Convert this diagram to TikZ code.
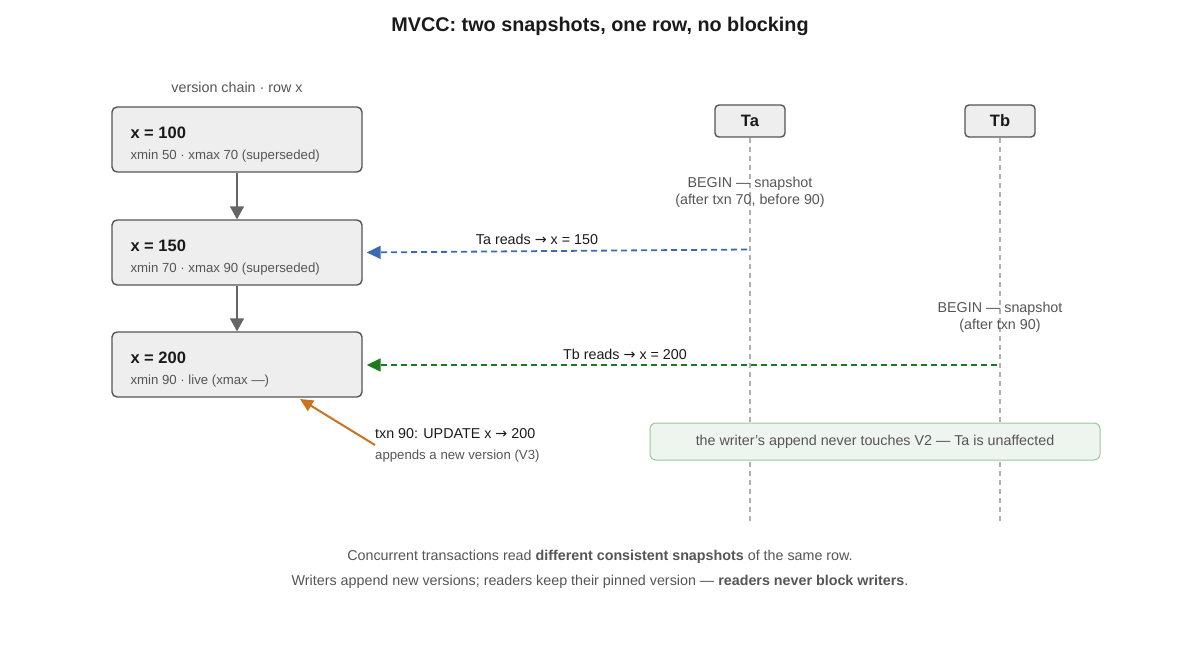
\documentclass[tikz,border=0pt]{standalone}
\usepackage{fontspec}
\setmainfont{Liberation Sans}
\newfontfamily\arrowfont{DejaVu Sans}
\newcommand\rarr{{\arrowfont →}}
\usetikzlibrary{arrows.meta,positioning}

\definecolor{ink}{HTML}{1A1A1A}
\definecolor{muted}{HTML}{555555}
\definecolor{edge}{HTML}{555555}
\definecolor{boxfill}{HTML}{EEEEEE}
\definecolor{lifegray}{HTML}{B0B0B0}
\definecolor{readA}{HTML}{3A6BB0}
\definecolor{readB}{HTML}{1F7A1F}
\definecolor{writer}{HTML}{C8741F}
\definecolor{notefill}{HTML}{EEF5EE}
\definecolor{noteedge}{HTML}{9CC89C}

\begin{document}
\begin{tikzpicture}[x=1pt,y=-1pt,
  version/.style={draw=edge,fill=boxfill,line width=1.4pt,rounded corners=5pt,
    minimum width=250pt,minimum height=65pt},
  vhead/.style={anchor=west,inner sep=0pt,text=ink,font=\bfseries\fontsize{16.5}{19}\selectfont},
  vsub/.style={anchor=west,inner sep=0pt,text=muted,font=\fontsize{13.2}{15}\selectfont},
  txnbox/.style={draw=edge,fill=boxfill,line width=1.4pt,rounded corners=4pt,
    minimum width=70pt,minimum height=32pt,text=ink,font=\bfseries\fontsize{16.5}{19}\selectfont},
  lifeline/.style={draw=lifegray,line width=1.3pt,dash pattern=on 5pt off 4pt},
  chainarrow/.style={draw=edge!90,line width=1.8pt,-{Triangle[length=13pt,width=14pt]}},
  readarrow/.style={line width=1.8pt,dash pattern=on 6pt off 4pt,shorten >=4pt,
    -{Triangle[length=14pt,width=13pt]}},
  body/.style={text=ink,font=\fontsize{14.3}{17}\selectfont,inner sep=0pt},
  note/.style={text=muted,font=\fontsize{14.3}{17}\selectfont,inner sep=0pt,align=center}]

\useasboundingbox (0,0) rectangle (1200,650);

\node[text=ink,font=\bfseries\fontsize{19.8}{23}\selectfont] (title) at (600,26.5)
  {MVCC: two snapshots, one row, no blocking};
\node[note] (chainlbl) at (237,87.5) {version chain · row x};

% version chain
\foreach \val/\y/\sub [count=\i] in {
    100/139.5/{xmin 50 · xmax 70 (superseded)},
    150/252.5/{xmin 70 · xmax 90 (superseded)},
    200/364.5/{xmin 90 · live (xmax —)}}
 {\node[version] (V\i) at (237,\y) {};
  \node[vhead] (V\i h) at ([xshift=19pt,yshift=7pt]V\i.west) {x = \val};
  \node[vsub] (V\i s) at ([xshift=19pt,yshift=-17pt]V\i.west) {\sub};
 }
\foreach \a/\b in {1/2,2/3}
  \draw[chainarrow] (V\a) -- (V\b);

% transactions and lifelines
\node[txnbox] (Ta) at (750,121) {Ta};
\node[txnbox] (Tb) at (1000,121) {Tb};
\coordinate (Ta end) at (750,522);
\coordinate (Tb end) at (1000,522);
\draw[lifeline] (Ta) -- (Ta end);
\draw[lifeline] (Tb) -- (Tb end);

\node[note] (Ta begin) at (750,192.5) {BEGIN — snapshot\\(after txn 70, before 90)};
\node[note] (Tb begin) at (1000,317.5) {BEGIN — snapshot\\(after txn 90)};

% reads
\coordinate (Ta read) at (747,249.5);
\coordinate (Tb read) at (997,365);
\draw[readarrow,readA] (Ta read) -- (V2.east);
\draw[readarrow,readB] (Tb read) -- (V3.east |- Tb read);
\node[body] (Ta lbl) at (537,239) {Ta reads \rarr\ x = 150};
\node[body] (Tb lbl) at (625,354) {Tb reads \rarr\ x = 200};

% writer
\coordinate (upd) at (375,445);
\coordinate (V3 hit) at (300,399);
\draw[writer,line width=2pt,-{Triangle[length=13pt,width=12pt]}] (upd) -- (V3 hit);
\node[body,anchor=west] (upd1) at (375,434) {txn 90: UPDATE x \rarr\ 200};
\node[vsub] (upd2) at (375,456) {appends a new version (V3)};

\node[draw=noteedge,fill=notefill,line width=1pt,rounded corners=6pt,
  minimum width=450pt,minimum height=37pt,note] (unaff) at (875,441.5)
  {the writer's append never touches V2 — Ta is unaffected};

% footer
\node[note] (foot1) at (600,556.5)
  {Concurrent transactions read \textbf{different consistent snapshots} of the same row.};
\node[note] (foot2) at (600,581.5)
  {Writers append new versions; readers keep their pinned version — \textbf{readers never block writers}.};

\end{tikzpicture}
\end{document}
